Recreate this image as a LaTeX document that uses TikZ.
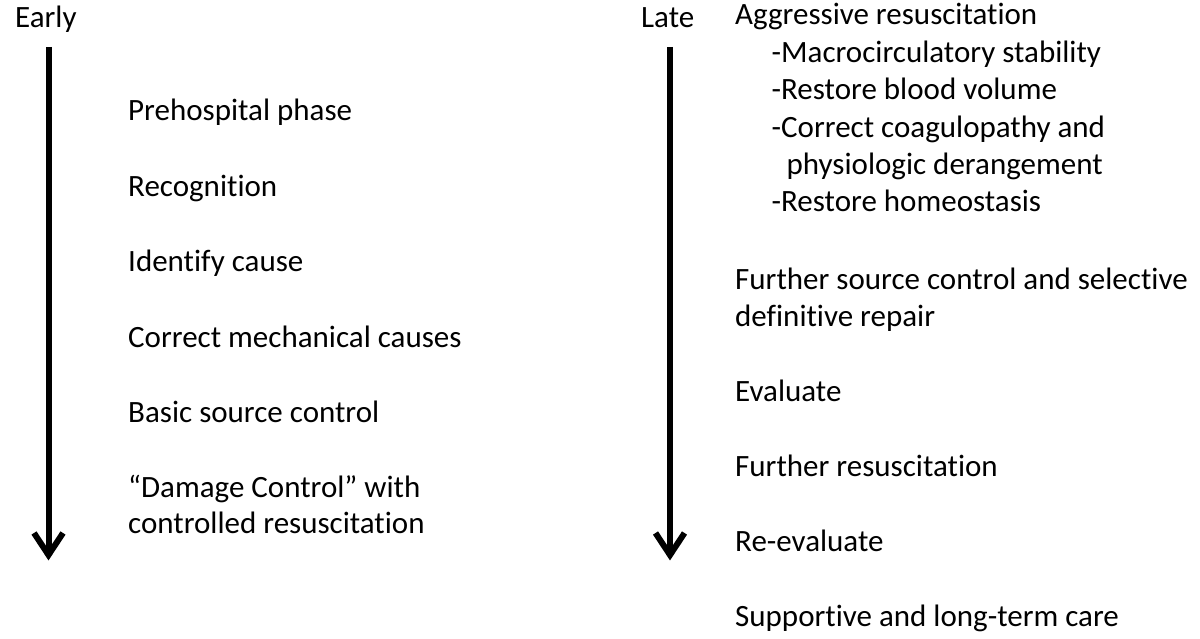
\documentclass[tikz,border=0pt]{standalone}
\usepackage{fontspec}
\setmainfont{Carlito}[Ligatures={NoCommon,NoRare}]
\begin{document}
\begin{tikzpicture}[x=1pt,y=-1pt,
  txt/.style={anchor=base west,inner sep=0pt,font=\fontsize{31}{37}\selectfont},
  shaft/.style={line width=6pt},
  barb/.style={line width=6pt,line join=miter}]
\useasboundingbox (0,0) rectangle (1200,639);
% headers
\node[txt] (early) at (15,28) {Early};
\node[txt] (late) at (641,28) {Late};
% arrows
\coordinate (eTop) at (48.5,47);
\coordinate (eTip) at (48.5,555);
\coordinate (eL) at (34,533);
\coordinate (eR) at (63,533);
\draw[shaft] (eTop) -- (eTip);
\draw[barb] (eL) -- (eTip) -- (eR);
\coordinate (lTop) at (670,47);
\coordinate (lTip) at (670,555);
\coordinate (lL) at (655.5,533);
\coordinate (lR) at (684.5,533);
\draw[shaft] (lTop) -- (lTip);
\draw[barb] (lL) -- (lTip) -- (lR);
% left column
\node[txt] (a1) at (128,121) {Prehospital phase};
\node[txt] (a2) at (128,196.5) {Recognition};
\node[txt] (a3) at (128,272) {Identify cause};
\node[txt] (a4) at (128,347) {Correct mechanical causes};
\node[txt] (a5) at (128,422) {Basic source control};
\node[txt] (a6) at (128,497) {“Damage Control” with};
\node[txt] (a6b) at (128,533.5) {controlled resuscitation};
% right column
\node[txt] (b1) at (735,25) {Aggressive resuscitation};
\node[txt] (b1a) at (771.5,62.3) {-Macrocirculatory stability};
\node[txt] (b1b) at (771.5,100) {-Restore blood volume};
\node[txt] (b1c) at (771.5,137.3) {-Correct coagulopathy and};
\node[txt] (b1d) at (786.5,175) {physiologic derangement};
\node[txt] (b1e) at (771.5,211.7) {-Restore homeostasis};
\node[txt] (b2) at (735,290) {Further source control and selective};
\node[txt] (b2b) at (735,326.7) {definitive repair};
\node[txt] (b3) at (735,401.7) {Evaluate};
\node[txt] (b4) at (735,476.7) {Further resuscitation};
\node[txt] (b5) at (735,551.7) {Re-evaluate};
\node[txt] (b6) at (735,626.7) {Supportive and long-term care};
\end{tikzpicture}
\end{document}
